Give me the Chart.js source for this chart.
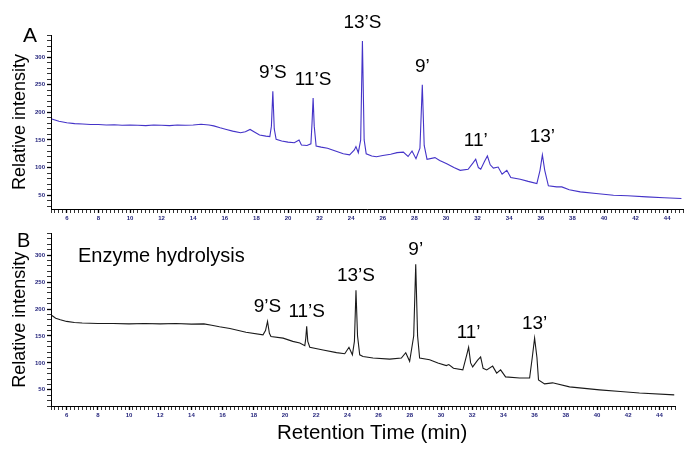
<!DOCTYPE html>
<html>
<head>
<meta charset="utf-8">
<script src="https://cdn.jsdelivr.net/npm/chart.js@4.4.0/dist/chart.umd.min.js"></script>
<style>
  body { margin: 0; background: #fff; }
  #wrap { position: relative; width: 700px; height: 456px; font-family: "Liberation Sans", Arial, sans-serif; }
  canvas { position: absolute; left: 0; }
  #chartA { top: 0; }
  #chartB { top: 228px; }
  .txt { position: absolute; line-height: 1; color: #000; white-space: nowrap; }
</style>
</head>
<body>
<div id="wrap">
  <canvas id="chartA" width="700" height="228"></canvas>
  <canvas id="chartB" width="700" height="228"></canvas>
  <div class="txt" style="left:23px;top:24px;font-size:21px">A</div>
  <div class="txt" style="left:17px;top:230px;font-size:20px">B</div>
  <div class="txt" style="left:78px;top:245px;font-size:20px">Enzyme hydrolysis</div>
  <div class="txt" style="left:277px;top:422px;font-size:20.5px">Retention Time (min)</div>
</div>

<script>
/* ── Data: panel A (standard) ─────────────────────────────── */
const timeA = [
  5.05, 5.5, 6.0, 6.5, 7.0, 7.5, 8.0, 8.5, 9.0, 9.5, 10.0, 10.5, 11.0, 11.5, 12.0, 12.5,
  13.0, 13.5, 14.0, 14.5, 15.0, 15.3, 15.7, 16.1, 16.5, 17.0, 17.3, 17.6, 17.9, 18.2,
  18.6, 18.85, 18.95, 19.04, 19.13, 19.25, 19.6, 20.0, 20.4, 20.7, 20.85, 21.2, 21.45,
  21.52, 21.59, 21.66, 21.78, 22.1, 22.5, 23.0, 23.5, 23.9, 24.2, 24.3, 24.45, 24.6,
  24.71, 24.82, 24.95, 25.3, 25.6, 26.0, 26.5, 26.9, 27.3, 27.6, 27.85, 28.1, 28.35,
  28.5, 28.62, 28.8, 29.3, 29.6, 30.05, 30.5, 30.9, 31.4, 31.7, 31.88, 32.05, 32.2,
  32.45, 32.62, 32.8, 33.0, 33.3, 33.55, 33.85, 34.1, 34.7, 35.2, 35.75, 35.95, 36.1,
  36.25, 36.48, 37.0, 37.33, 37.8, 38.5, 39.5, 40.6, 41.5, 42.7, 43.8, 44.9
];
const intensA = [
  188, 184, 181, 179.5, 179, 178, 178, 177, 177.5, 176.5, 177, 176.5, 176, 177, 176.5, 176,
  177, 176.5, 177, 178.5, 177, 175.5, 172, 169, 166, 163, 165, 169, 164, 159,
  157, 156, 175, 238, 170, 151, 148, 146, 145, 150, 141, 140, 143,
  180, 226, 175, 139, 137, 135, 130, 125, 123, 132, 138, 127, 150,
  329, 150, 125, 121, 119.5, 122, 124, 127, 128, 120, 130, 116, 135,
  250, 140, 115, 118, 113, 107, 100, 95, 97, 108, 115, 100, 97,
  112, 121, 105, 99, 101, 88, 95, 82, 79, 75, 71, 95, 123,
  95, 67, 65, 65, 60, 56, 53, 50, 49, 47, 45.5, 44
];
const peakNamesA = ['9’S', '11’S', '13’S', '9’', '11’', '13’'];
const peakTimesA = [19.04, 21.59, 24.71, 28.5, 31.88, 36.1];

/* ── Data: panel B (enzyme hydrolysis) ────────────────────── */
const timeB = [
  5.06, 5.3, 5.6, 6.0, 6.5, 7.0, 8.0, 9.0, 10.0, 11.0, 12.0, 13.0, 14.0, 14.8, 15.3, 15.8,
  16.47, 17.5, 18.59, 18.75, 18.88, 19.0, 19.1, 19.88, 20.5, 20.95, 21.27, 21.33, 21.39,
  21.46, 21.59, 22.44, 23.3, 23.83, 24.1, 24.32, 24.45, 24.55, 24.65, 24.79, 25.0, 25.64,
  26.71, 27.46, 27.74, 27.99, 28.25, 28.38, 28.5, 28.63, 29.27, 29.8, 30.34, 30.5, 30.8,
  31.4, 31.65, 31.77, 31.9, 32.03, 32.35, 32.54, 32.7, 32.93, 33.31, 33.57, 33.82, 34.14,
  35.04, 35.68, 35.85, 36.0, 36.15, 36.25, 36.64, 37.15, 38.24, 40.16, 41.5, 42.72, 44.95
];
const intensB = [
  188, 183, 180, 177, 175, 174, 173, 173, 172.5, 173, 172.5, 173, 172, 172.5, 170, 167,
  164, 157, 152, 160, 177, 155, 149, 146, 140, 137, 132, 145, 168,
  140, 129, 124, 119, 117, 129, 115, 140, 235, 150, 115, 112, 109,
  107, 109, 119, 103, 150, 283, 150, 109, 106, 100, 95, 97, 90,
  87, 115, 129, 100, 92.6, 105, 111, 90, 87, 94, 81, 87, 74,
  72, 72, 110, 146, 110, 68.5, 61, 63, 55.5, 50, 47, 44, 40.7
];
const peakNamesB = ['9’S', '11’S', '13’S', '9’', '11’', '13’'];
const peakTimesB = [18.88, 21.39, 24.55, 28.38, 31.77, 36.0];

/* ── Tick labels ──────────────────────────────────────────── */
const xTickLabels = [6, 8, 10, 12, 14, 16, 18, 20, 22, 24, 26, 28, 30, 32, 34, 36, 38, 40, 42, 44];
const yTickLabels = [50, 100, 150, 200, 250, 300];

const FONT = '"Liberation Sans", Arial, sans-serif';
const TICK_COLOR = '#1e1e78';

/* minor tick positions (every 0.25 min) */
const xMinor = [];
for (let v = 5; v <= 45; v += 0.25) xMinor.push(v);

/* ── Peak label plugin ────────────────────────────────────── */
const peakLabels = {
  id: 'peakLabels',
  afterDatasetsDraw(chart, args, opts) {
    const { ctx, scales: { x, y } } = chart;
    const pts = chart.data.datasets[0].data;
    ctx.save();
    ctx.font = '19px ' + FONT;
    ctx.fillStyle = '#000';
    ctx.textAlign = 'center';
    ctx.textBaseline = 'alphabetic';
    opts.names.forEach((name, i) => {
      const t = opts.times[i];
      const top = Math.max(...pts.filter(p => Math.abs(p.x - t) < 0.2).map(p => p.y));
      ctx.fillText(name, x.getPixelForValue(t), y.getPixelForValue(top) - opts.offset);
    });
    ctx.restore();
  }
};

/* ── Chart builder ────────────────────────────────────────── */
function makeChart(id, times, values, color, yMin, yMax, padTop, padRight, xAxisH, names, peakTimes, offset) {
  const yMinor = [];
  for (let v = Math.ceil(yMin / 10) * 10; v <= yMax; v += 10) yMinor.push(v);

  return new Chart(document.getElementById(id), {
    type: 'line',
    data: {
      datasets: [{
        data: times.map((t, i) => ({ x: t, y: values[i] })),
        borderColor: color,
        borderWidth: 1.1,
        pointRadius: 0,
        tension: 0,
        fill: false
      }]
    },
    options: {
      responsive: false,
      animation: false,
      devicePixelRatio: 1,
      layout: { padding: { top: padTop, right: padRight, left: 0, bottom: 0 } },
      plugins: {
        legend: { display: false },
        tooltip: { enabled: false },
        peakLabels: { names: names, times: peakTimes, offset: offset }
      },
      scales: {
        x: {
          type: 'linear', min: 5, max: 45,
          afterBuildTicks: s => { s.ticks = xMinor.map(v => ({ value: v })); },
          afterFit: s => { s.height = xAxisH; },
          grid: {
            drawOnChartArea: false, tickLength: 4, tickColor: '#000',
            tickWidth: c => (c.tick && xTickLabels.includes(c.tick.value)) ? 1.3 : 0.8
          },
          border: { color: '#000', width: 1 },
          ticks: {
            autoSkip: false, maxRotation: 0, minRotation: 0, padding: 2,
            font: { size: 6, weight: 'bold', family: FONT }, color: TICK_COLOR,
            callback: v => xTickLabels.includes(v) ? String(v) : ''
          }
        },
        y: {
          type: 'linear', min: yMin, max: yMax,
          afterBuildTicks: s => { s.ticks = yMinor.map(v => ({ value: v })); },
          afterFit: s => { s.width = 51; },
          grid: {
            drawOnChartArea: false, tickLength: 4, tickColor: '#000',
            tickWidth: c => (c.tick && yTickLabels.includes(c.tick.value)) ? 1.3 : 0.8
          },
          border: { color: '#000', width: 1 },
          title: {
            display: true, text: 'Relative intensity', color: '#000',
            font: { size: 18, family: FONT }, padding: { top: 9, bottom: 0 }
          },
          ticks: {
            autoSkip: false, padding: 2,
            font: { size: 6, weight: 'bold', family: FONT }, color: TICK_COLOR,
            callback: v => yTickLabels.includes(v) ? String(v) : ''
          }
        }
      }
    },
    plugins: [peakLabels]
  });
}

makeChart('chartA', timeA, intensA, '#4433c8', 25, 340, 35, 17, 19, peakNamesA, peakTimesA, 13);
makeChart('chartB', timeB, intensB, '#1a1a1a', 20, 340, 5, 25, 50, peakNamesB, peakTimesB, 9);
</script>
</body>
</html>
